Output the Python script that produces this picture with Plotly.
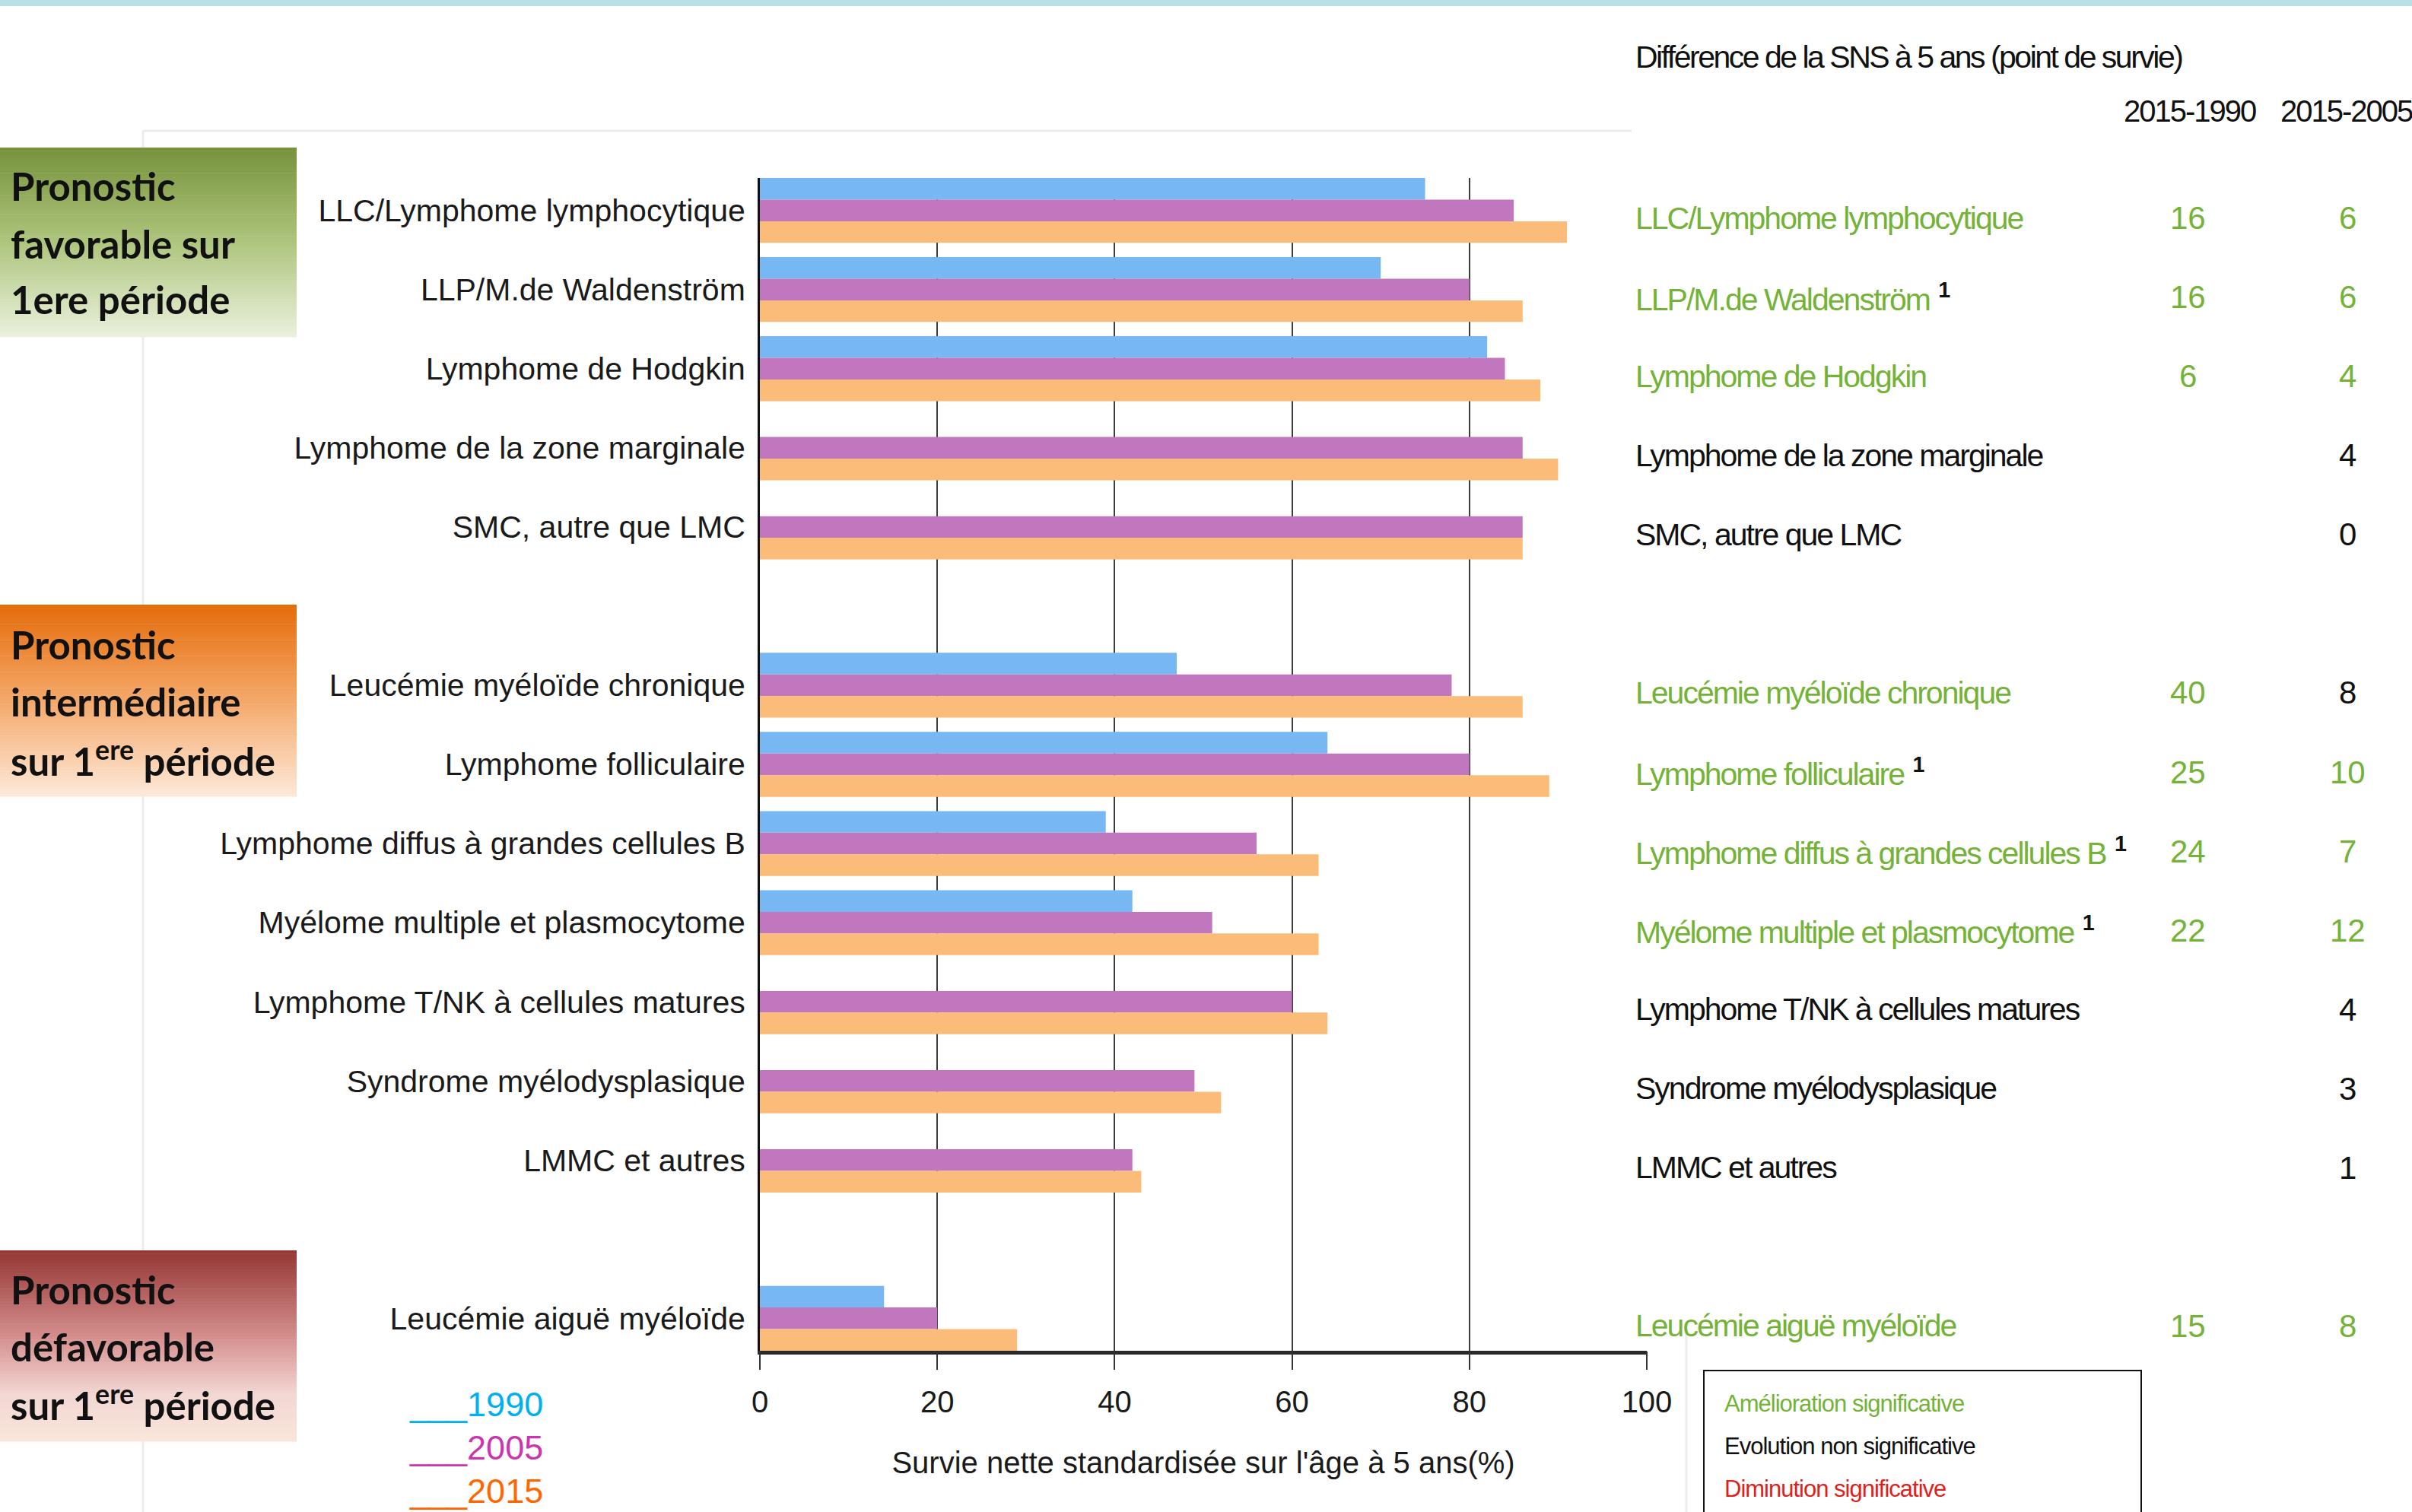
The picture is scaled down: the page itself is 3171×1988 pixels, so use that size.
import plotly.graph_objects as go

# ---------------- data ----------------
categories = [
    "LLC/Lymphome lymphocytique",
    "LLP/M.de Waldenström",
    "Lymphome de Hodgkin",
    "Lymphome de la zone marginale",
    "SMC, autre que LMC",
    "Leucémie myéloïde chronique",
    "Lymphome folliculaire",
    "Lymphome diffus à grandes cellules B",
    "Myélome multiple et plasmocytome",
    "Lymphome T/NK à cellules matures",
    "Syndrome myélodysplasique",
    "LMMC et autres",
    "Leucémie aiguë myéloïde",
]
group_of = [0, 0, 0, 0, 0, 1, 1, 1, 1, 1, 1, 1, 2]

surv_1990 = [75, 70, 82, None, None, 47, 64, 39, 42, None, None, None, 14]
surv_2005 = [85, 80, 84, 86, 86, 78, 80, 56, 51, 60, 49, 42, 20]
surv_2015 = [91, 86, 88, 90, 86, 86, 89, 63, 63, 64, 52, 43, 29]

years = ["1990", "2005", "2015"]

table_labels = [
    "LLC/Lymphome lymphocytique",
    "LLP/M.de Waldenström",
    "Lymphome de Hodgkin",
    "Lymphome de la zone marginale",
    "SMC, autre que LMC",
    "Leucémie myéloïde chronique",
    "Lymphome folliculaire",
    "Lymphome diffus à grandes cellules B",
    "Myélome multiple et plasmocytome",
    "Lymphome T/NK à cellules matures",
    "Syndrome myélodysplasique",
    "LMMC et autres",
    "Leucémie aiguë myéloïde",
]
diff_2015_1990 = [16, 16, 6, None, None, 40, 25, 24, 22, None, None, None, 15]
diff_2015_2005 = [6, 6, 4, 4, 0, 8, 10, 7, 12, 4, 3, 1, 8]
signif_1990 = [True, True, True, False, False, True, True, True, True, False, False, False, True]
signif_2005 = [True, True, True, False, False, False, True, True, True, False, False, False, True]
footnote = [False, True, False, False, False, False, True, True, True, False, False, False, False]

group_titles = [
    ["Pronostic", "favorable sur", "1ere période"],
    ["Pronostic", "intermédiaire", "sur 1<sup>ere</sup> période"],
    ["Pronostic", "défavorable", "sur 1<sup>ere</sup> période"],
]
legend_notes = ["Amélioration significative", "Evolution non significative", "Diminution significative"]

# ---------------- styles ----------------
W, H = 3171, 1988
X0, X1 = 999, 2165       # pixel position of x=0 and x=100
YT, YB = 234, 1776       # top / bottom of plot area
BAR_COLORS = ["#77b8f2", "#c077bd", "#fbbb79"]
YEAR_COLORS = ["#00b0f0", "#c936b0", "#ff6600"]
GREEN = "#74b238"
AX_FONT = "Liberation Sans, Arial, sans-serif"
TAB_FONT = "Liberation Sans, Arial, sans-serif"
BOX_FONT = "Lato, Open Sans, sans-serif"


def px(x):
    return (x - X0) / (X1 - X0)


def py(y):
    return (YB - y) / (YB - YT)


def squeeze(t, ls):
    return '<span style="letter-spacing:%.1fpx">%s</span>' % (ls, t)


ypos = [i + g for i, g in enumerate(group_of)]

fig = go.Figure()
for k, vals in enumerate([surv_1990, surv_2005, surv_2015]):
    fig.add_trace(go.Bar(
        x=vals, y=ypos, orientation="h", name=years[k],
        marker=dict(color=BAR_COLORS[k], line=dict(width=0)),
        showlegend=False,
    ))
# dummy trace so the overlay axis (ticks / labels) is drawn
fig.add_trace(go.Scatter(x=[None], y=[None], xaxis="x2", showlegend=False, hoverinfo="skip"))

shapes = []
shapes.append(dict(type="rect", xref="paper", yref="paper", x0=px(0), x1=px(W), y0=py(0), y1=py(8),
                   fillcolor="#b9e0e4", line=dict(width=0), layer="below"))
for (xa, ya, xb, yb) in [(188, 172, 2145, 172), (188, 172, 188, 1995), (2217, 1750, 2217, 1995)]:
    shapes.append(dict(type="line", xref="paper", yref="paper", x0=px(xa), x1=px(xb), y0=py(ya), y1=py(yb),
                       line=dict(color="#ececec", width=3), layer="below"))


def hex2rgb(h):
    h = h.lstrip("#")
    return tuple(int(h[i:i + 2], 16) for i in (0, 2, 4))


def grad_color(stops, t):
    for (t0, c0), (t1, c1) in zip(stops[:-1], stops[1:]):
        if t <= t1:
            f = (t - t0) / (t1 - t0) if t1 > t0 else 0
            a, b = hex2rgb(c0), hex2rgb(c1)
            return "rgb(%d,%d,%d)" % tuple(round(a[i] + (b[i] - a[i]) * f) for i in range(3))
    return stops[-1][1]


boxes = [
    (194, 443, [(0, "#76923c"), (0.5, "#aec57d"), (1, "#eaf1dd")]),
    (795, 1047, [(0, "#e46c0a"), (0.5, "#f4a86a"), (1, "#fde9d9")]),
    (1644, 1895, [(0, "#943634"), (0.45, "#d48e8c"), (0.75, "#f2d6d3"), (1, "#f9e6da")]),
]
N = 60
for (ya, yb, stops) in boxes:
    h = (yb - ya) / N
    for i in range(N):
        shapes.append(dict(type="rect", xref="paper", yref="paper", x0=px(0), x1=px(390),
                           y0=py(ya + i * h), y1=py(ya + (i + 1) * h + 0.6),
                           fillcolor=grad_color(stops, (i + 0.5) / N), line=dict(width=0), layer="below"))

shapes.append(dict(type="rect", xref="paper", yref="paper", x0=px(2240), x1=px(2815), y0=py(1802), y1=py(2010),
                   fillcolor="white", line=dict(color="#111111", width=2), layer="below"))

ann = []
line_y = [[245, 320, 394], [847, 922, 997], [1695, 1770, 1844]]
for g, lines in enumerate(group_titles):
    for j, t in enumerate(lines):
        ann.append(dict(xref="paper", yref="paper", x=px(12), y=py(line_y[g][j]), xanchor="left", yanchor="middle",
                        text=t, showarrow=False,
                        font=dict(family=BOX_FONT, size=51, color="#111111", weight="bold")))

for k, yr in enumerate(years):
    ann.append(dict(xref="paper", yref="paper", x=px(536), y=py(1846 + 57 * k), xanchor="left", yanchor="middle",
                    text="___" + yr, showarrow=False,
                    font=dict(family=AX_FONT, size=45, color=YEAR_COLORS[k])))

ann.append(dict(xref="paper", yref="paper", x=px(2148), y=py(75), xanchor="left", yanchor="middle",
                text=squeeze("Différence de la SNS à 5 ans (point de survie)", -2.5), showarrow=False,
                font=dict(family=TAB_FONT, size=41, color="#111111")))
for xc, t in [(2879, "2015-1990"), (3085, "2015-2005")]:
    ann.append(dict(xref="paper", yref="paper", x=px(xc), y=py(146), xanchor="center", yanchor="middle",
                    text=squeeze(t, -2), showarrow=False, font=dict(family=TAB_FONT, size=40, color="#111111")))

for i, lab in enumerate(table_labels):
    green_row = signif_1990[i] or signif_2005[i]
    col = GREEN if green_row else "#111111"
    txt = squeeze(lab, -2)
    if footnote[i]:
        txt += ' <span style="color:#111111;font-weight:bold"><sup>1</sup></span>'
    ann.append(dict(xref="paper", yref="y", x=px(2148), y=ypos[i], yshift=-10, xanchor="left", yanchor="middle",
                    text=txt, showarrow=False, font=dict(family=TAB_FONT, size=41, color=col)))
    if diff_2015_1990[i] is not None:
        ann.append(dict(xref="paper", yref="y", x=px(2876), y=ypos[i], yshift=-10, xanchor="center",
                        yanchor="middle", text=str(diff_2015_1990[i]), showarrow=False,
                        font=dict(family=TAB_FONT, size=42, color=GREEN if signif_1990[i] else "#111111")))
    ann.append(dict(xref="paper", yref="y", x=px(3086), y=ypos[i], yshift=-10, xanchor="center",
                    yanchor="middle", text=str(diff_2015_2005[i]), showarrow=False,
                    font=dict(family=TAB_FONT, size=42, color=GREEN if signif_2005[i] else "#111111")))

for j, (t, c) in enumerate(zip(legend_notes, [GREEN, "#111111", "#e0201b"])):
    ann.append(dict(xref="paper", yref="paper", x=px(2265), y=py(1845 + 56 * j), xanchor="left", yanchor="middle",
                    text=squeeze(t, -1), showarrow=False, font=dict(family=TAB_FONT, size=31, color=c)))

fig.update_layout(
    width=W, height=H,
    margin=dict(l=X0, r=W - X1, t=YT, b=H - YB, pad=0),
    paper_bgcolor="white", plot_bgcolor="white",
    barmode="group", bargap=0.18, bargroupgap=0,
    showlegend=False,
    shapes=shapes, annotations=ann,
    xaxis=dict(range=[0, 100], tickvals=[20, 40, 60, 80], showticklabels=False, ticks="",
               showgrid=True, gridcolor="#3c3c3c", gridwidth=2, zeroline=False,
               showline=True, linecolor="#2a2a2a", linewidth=5),
    xaxis2=dict(overlaying="x", anchor="y", side="bottom", range=[0, 100], tickvals=[0, 20, 40, 60, 80, 100],
                ticks="outside", ticklen=24, tickwidth=2, tickcolor="#333333", showgrid=False, zeroline=False,
                showline=False, ticklabelstandoff=8, tickfont=dict(family=AX_FONT, size=40, color="#1a1a1a"),
                title=dict(text="Survie nette standardisée sur l'âge à 5 ans(%)", standoff=44,
                           font=dict(family=AX_FONT, size=40, color="#1a1a1a"))),
    yaxis=dict(range=[max(ypos) + 0.41, -0.41], tickvals=ypos, ticktext=categories, ticks="",
               showgrid=False, zeroline=False, showline=True, linecolor="#111111", linewidth=3,
               ticklabelstandoff=8, tickfont=dict(family=AX_FONT, size=41, color="#1a1a1a")),
)

fig.write_html("out.html", config={"displayModeBar": False},
               post_script="document.body.style.margin='0';")
